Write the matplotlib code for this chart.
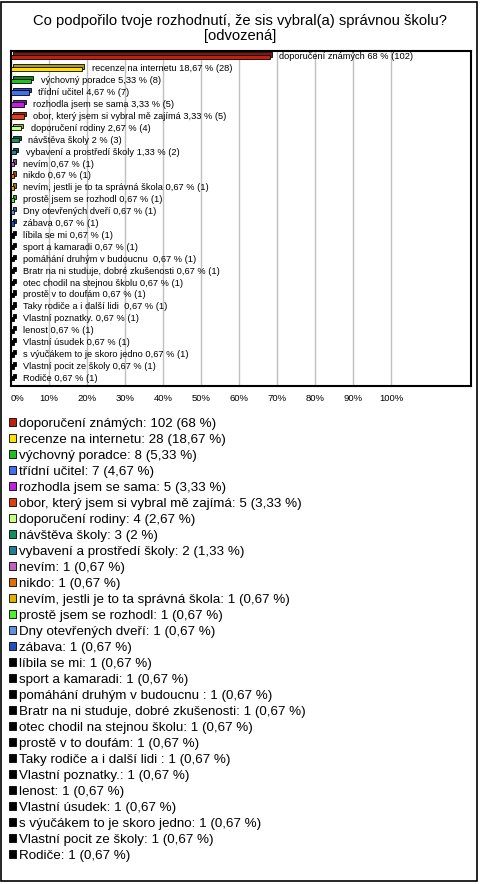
import matplotlib
matplotlib.use("Agg")
import matplotlib.pyplot as plt
import matplotlib.transforms as mtransforms
from matplotlib.patches import Rectangle
import matplotlib.colors as mcolors

plt.rcParams['font.family'] = ['Liberation Sans', 'DejaVu Sans']

title_lines = ["Co podpořilo tvoje rozhodnutí, že sis vybral(a) správnou školu?", "[odvozená]"]

categories = [
    "doporučení známých", "recenze na internetu", "výchovný poradce", "třídní učitel",
    "rozhodla jsem se sama", "obor, který jsem si vybral mě zajímá", "doporučení rodiny",
    "návštěva školy", "vybavení a prostředí školy", "nevím", "nikdo",
    "nevím, jestli je to ta správná škola", "prostě jsem se rozhodl", "Dny otevřených dveří",
    "zábava", "líbila se mi", "sport a kamaradi", "pomáhání druhým v budoucnu ",
    "Bratr na ni studuje, dobré zkušenosti", "otec chodil na stejnou školu",
    "prostě v to doufám", "Taky rodiče a i další lidi ", "Vlastní poznatky.", "lenost",
    "Vlastní úsudek", "s výučákem to je skoro jedno", "Vlastní pocit ze školy", "Rodiče",
]
counts = [102, 28, 8, 7, 5, 5, 4, 3, 2] + [1] * 19
percents = [68, 18.67, 5.33, 4.67, 3.33, 3.33, 2.67, 2, 1.33] + [0.67] * 19
colors = ["#C02010", "#FFE000", "#20C020", "#4070F0", "#C020E0", "#E04010", "#C8FF80",
          "#109060", "#208090", "#C060C0", "#E07000", "#E0B000", "#50F030", "#6090E0",
          "#2050C0"] + ["#000000"] * 13
xticks = [0, 10, 20, 30, 40, 50, 60, 70, 80, 90, 100]


def fmt(v):
    s = ("%.2f" % v).rstrip("0").rstrip(".")
    return s.replace(".", ",")


def darker(c, f=0.7):
    r, g, b = mcolors.to_rgb(c)
    return (r * f, g * f, b * f)


W, H = 480, 884
fig = plt.figure(figsize=(W / 100, H / 100), dpi=100)
fig.patch.set_facecolor("white")

# outer border
fig.patches.append(Rectangle((1 / W, 3 / H), 476 / W, 879 / H, transform=fig.transFigure,
                             fill=False, edgecolor="black", linewidth=1.2))

fig.text(0.5, 1 - 21 / H, title_lines[0], ha="center", va="center", fontsize=10.6)
fig.text(0.5, 1 - 36 / H, title_lines[1], ha="center", va="center", fontsize=10.6)

left, right, top, bottom = 11 / W, 470.7 / W, 1 - 50.5 / H, 1 - 386 / H
ax = fig.add_axes([left, bottom, right - left, top - bottom])
n = len(categories)
ypos = list(range(n))

bh = 0.36
depth = mtransforms.offset_copy(ax.transData, fig=fig, x=2.2, y=2.4, units="dots")
ax.barh(ypos, percents, height=bh, color=[darker(c) for c in colors], edgecolor="black",
        linewidth=0.6, transform=depth, zorder=3)
bars = ax.barh(ypos, percents, height=bh, color=colors, edgecolor="black",
               linewidth=0.6, zorder=4)

for i, (cat, p, c) in enumerate(zip(categories, percents, counts)):
    ax.annotate(f"{cat} {fmt(p)} % ({c})", (p, i), xytext=(7, 0), textcoords="offset points",
                ha="left", va="center", fontsize=6.7, zorder=5)

ax.set_xlim(0, 120.9)
ax.set_ylim(n - 1 + 0.65, -0.54)
ax.set_xticks(xticks)
ax.set_xticklabels([f"{t}%" for t in xticks], fontsize=6.8)
ax.get_xticklabels()[0].set_horizontalalignment("left")
ax.tick_params(axis="x", length=0, pad=6)
ax.set_yticks([])
ax.grid(axis="x", color="#C0C0C0", linewidth=1, zorder=0)
ax.set_axisbelow(True)
for s in ax.spines.values():
    s.set_linewidth(1.5)
    s.set_color("black")

handles = list(bars.patches)
labels = [f"{cat}: {c} ({fmt(p)} %)" for cat, c, p in zip(categories, counts, percents)]
fig.legend(handles, labels, loc="upper left", bbox_to_anchor=(9 / W, 1 - 418 / H),
           frameon=False, fontsize=9.6, handlelength=0.55, handleheight=0.55,
           handletextpad=0.2, labelspacing=0.30, borderpad=0, borderaxespad=0)

fig.savefig("out.png", dpi=100, facecolor="white")
